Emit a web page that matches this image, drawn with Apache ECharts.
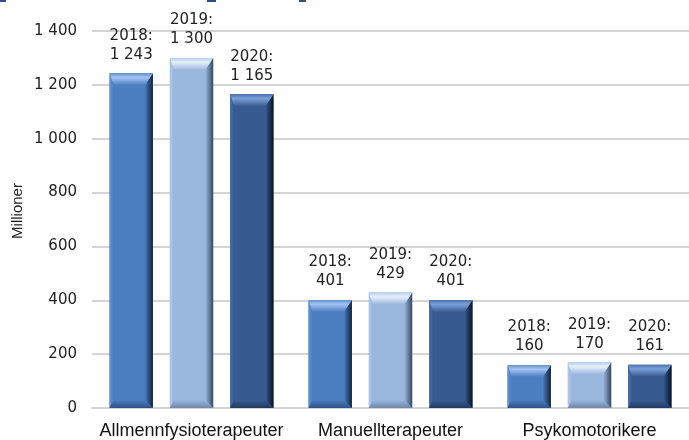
<!DOCTYPE html>
<html lang="no">
<head>
    <meta charset="UTF-8">
    <script src="https://cdn.jsdelivr.net/npm/echarts@6/dist/echarts.min.js"></script>
    <title>Fysioterapi</title>
    <style>
        html, body { margin: 0; padding: 0; background: #fff; }
    </style>
</head>
<body>
<div id="main" style="width: 689px;height:440px;"></div>

<script type="text/javascript">

    // data
    var categories = ['Allmennfysioterapeuter', 'Manuellterapeuter', 'Psykomotorikere'];
    var years = ['2018', '2019', '2020'];
    var v2018 = [1243, 401, 160];
    var v2019 = [1300, 429, 170];
    var v2020 = [1165, 401, 161];
    var yTicks = [0, 200, 400, 600, 800, 1000, 1200, 1400];

    // colours for the bevelled bars: face, top-light, right-dark, left, bottom
    var palette = [
        { face: '#4c7ec2', hi: '#a3c3f0', rim: '#6490cc', dark: '#15223a', left: '#6193d4', bottom: '#2f5285' },
        { face: '#9ab7de', hi: '#e6f0fc', rim: '#b4cced', dark: '#38455a', left: '#b0c9eb', bottom: '#6e87aa' },
        { face: '#375b91', hi: '#7aa1d8', rim: '#4a71aa', dark: '#0b1322', left: '#4870aa', bottom: '#213a61' }
    ];

    function fmt(v) {
        return String(v).replace(/\B(?=(\d{3})+(?!\d))/g, ' ');
    }

    function grad(x0, y0, x1, y1, stops) {
        return new echarts.graphic.LinearGradient(x0, y0, x1, y1, stops);
    }

    function renderBar(params, api) {
        var idx = params.seriesIndex;
        var col = palette[idx];
        var cat = api.value(0);
        var val = api.value(1);
        var top = api.coord([cat, val]);
        var base = api.coord([cat, 0]);
        var cw = api.size([1, 0])[0];
        var bw = cw * 0.218;
        var cx = top[0] + cw * 0.303 * (idx - 1);
        var x0 = cx - bw / 2, x1 = cx + bw / 2;
        var y0 = top[1], y1 = base[1];
        var bt = Math.min(12, (y1 - y0) / 2);
        var bb = Math.min(8, (y1 - y0) / 2);
        var br = 8;
        var bl = 4;

        return {
            type: 'group',
            children: [
                { type: 'rect', shape: { x: x0, y: y0, width: bw, height: y1 - y0 },
                  style: { fill: col.face } },
                // left bevel
                { type: 'polygon', shape: { points: [[x0, y0], [x0 + bl, y0 + bt], [x0 + bl, y1 - bb], [x0, y1]] },
                  style: { fill: grad(0, 0, 1, 0, [{ offset: 0, color: col.left }, { offset: 1, color: col.face }]) } },
                // bottom bevel
                { type: 'polygon', shape: { points: [[x0, y1], [x0 + bl, y1 - bb], [x1 - br, y1 - bb], [x1, y1]] },
                  style: { fill: grad(0, 0, 0, 1, [{ offset: 0, color: col.face }, { offset: 1, color: col.bottom }]) } },
                // right bevel
                { type: 'polygon', shape: { points: [[x1, y0], [x1, y1], [x1 - br, y1 - bb], [x1 - br, y0 + bt]] },
                  style: { fill: grad(0, 0, 1, 0, [{ offset: 0, color: col.face }, { offset: 0.45, color: col.bottom }, { offset: 1, color: col.dark }]) } },
                // top bevel
                { type: 'polygon', shape: { points: [[x0, y0], [x1, y0], [x1 - br, y0 + bt], [x0 + bl, y0 + bt]] },
                  style: { fill: grad(0, 0, 0, 1, [{ offset: 0, color: col.rim }, { offset: 0.35, color: col.hi }, { offset: 1, color: col.face }]) } },
                // value label
                { type: 'text', x: cx, y: y0 - 9,
                  style: { text: years[idx] + ':\n' + fmt(val), align: 'center', verticalAlign: 'bottom',
                           fontFamily: 'DejaVu Sans', fontSize: 15, lineHeight: 19, fill: '#222' } }
            ]
        };
    }

    function makeSeries(name, values) {
        return {
            name: name,
            type: 'custom',
            renderItem: renderBar,
            encode: { x: 0, y: 1 },
            data: values.map(function (v, i) { return [i, v]; }),
            clip: false,
            animation: false
        };
    }

    var myChart = echarts.init(document.getElementById('main'));

    var option = {
        backgroundColor: '#ffffff',
        animation: false,
        grid: { left: 92, top: 31, width: 605, height: 377 },
        xAxis: {
            type: 'category',
            data: categories,
            axisTick: { show: false },
            axisLine: { lineStyle: { color: '#d4d4d4', width: 2 } },
            axisLabel: {
                interval: 0,
                color: '#111',
                fontFamily: 'Liberation Sans',
                fontSize: 18,
                margin: 14
            }
        },
        yAxis: {
            type: 'value',
            min: yTicks[0],
            max: yTicks[yTicks.length - 1],
            interval: 200,
            axisLine: { show: false },
            axisTick: { show: false },
            splitLine: { lineStyle: { color: '#d4d4d4', width: 2 } },
            axisLabel: {
                color: '#222',
                fontFamily: 'DejaVu Sans',
                fontSize: 15,
                margin: 15,
                formatter: function (v) { return fmt(v); }
            }
        },
        graphic: [
            { type: 'text', x: 18, y: 211, rotation: Math.PI / 2,
              style: { text: 'Millioner', align: 'center', verticalAlign: 'middle',
                       fontFamily: 'Liberation Sans', fontSize: 15, fill: '#222' } },
            { type: 'rect', shape: { x: 0, y: 0, width: 6, height: 2 }, style: { fill: '#2d4f86' } },
            { type: 'rect', shape: { x: 207, y: 0, width: 9, height: 2 }, style: { fill: '#2d4f86' } },
            { type: 'rect', shape: { x: 299, y: 0, width: 7, height: 2 }, style: { fill: '#2d4f86' } }
        ],
        series: [
            makeSeries(years[0], v2018),
            makeSeries(years[1], v2019),
            makeSeries(years[2], v2020)
        ]
    };

    myChart.setOption(option);
</script>
</body>
</html>
